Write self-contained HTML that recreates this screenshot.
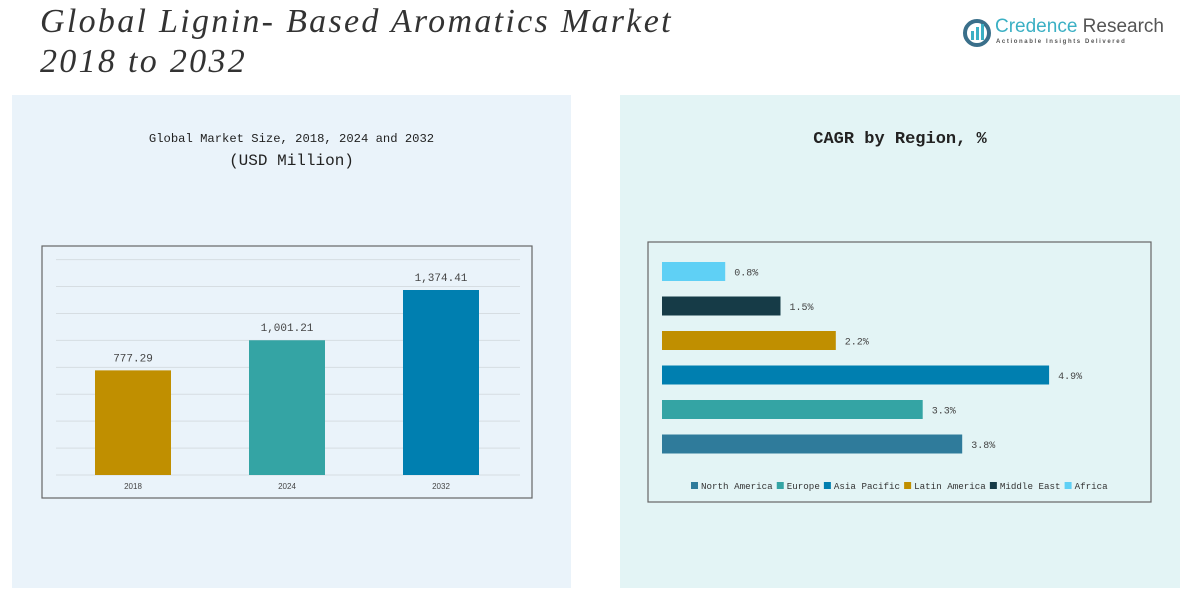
<!DOCTYPE html>
<html><head><meta charset="utf-8"><style>
body{margin:0;width:1195px;height:606px;background:#fff;position:relative;overflow:hidden;font-family:"Liberation Mono",monospace}
.t{position:absolute;white-space:nowrap}
</style></head><body>
<div class="t" style="left:40px;top:2px;font:italic 34px/40px 'Liberation Serif',serif;color:#333;letter-spacing:2.3px">Global Lignin- Based Aromatics Market<br>2018 to 2032</div>
<div style="position:absolute;left:962px;top:16px;width:200px;height:34px">
<svg width="30" height="30" style="position:absolute;left:0;top:2px"><circle cx="15" cy="15" r="12" fill="none" stroke="#3a6f8a" stroke-width="4"/><rect x="9" y="13" width="3" height="9" fill="#3bb0c4"/><rect x="14" y="9" width="3" height="13" fill="#3bb0c4"/><rect x="19" y="6" width="3" height="16" fill="#3bb0c4"/></svg>
<div class="t" style="left:33px;top:0;font:19px 'Liberation Sans',sans-serif;color:#3bb0c4">Credence <span style="color:#555">Research</span></div>
<div class="t" style="left:34px;top:23px;font:bold 6px 'Liberation Sans',sans-serif;color:#555;letter-spacing:1.6px">Actionable Insights Delivered</div>
</div>
<div style="position:absolute;left:12px;top:95px;width:559px;height:493px;background:#eaf3fa"></div>
<div style="position:absolute;left:620px;top:95px;width:560px;height:493px;background:#e3f4f5"></div>
<div class="t" style="left:12px;width:559px;top:128px;text-align:center;font:12.2px/22px 'Liberation Mono',monospace;color:#222">Global Market Size, 2018, 2024 and 2032<br><span style="font-size:16px">(USD Million)</span></div>
<div class="t" style="left:620px;width:560px;top:130px;text-align:center;font:bold 17px 'Liberation Mono',monospace;color:#222">CAGR by Region, %</div>
<svg id="c1" width="1195" height="606" style="position:absolute;left:0;top:0"></svg>
<script>
const years=["2018","2024","2032"];
const sizes=[777.29,1001.21,1374.41];
const sizeLabels=["777.29","1,001.21","1,374.41"];
const regions=["North America","Europe","Asia Pacific","Latin America","Middle East","Africa"];
const cagr=[3.8,3.3,4.9,2.2,1.5,0.8];
const cagrLabels=["3.8%","3.3%","4.9%","2.2%","1.5%","0.8%"];
const yTicks=[0,200,400,600,800,1000,1200,1400,1600];
const barColors=["#c08f00","#34a4a4","#007fb0"];
const regColors=["#2f7b9b","#34a4a4","#007fb0","#c08f00","#163b47","#5fd0f5"];
const NS="http://www.w3.org/2000/svg",svg=document.getElementById('c1');
function mk(t,a,p){const e=document.createElementNS(NS,t);for(const k in a)e.setAttribute(k,a[k]);(p||svg).appendChild(e);return e}
const f1=mk('rect',{x:42,y:246,width:490,height:252,fill:'none',stroke:'#666','stroke-width':1.2});


const y0=475,ys=v=>y0-v*(185/1374.41);
yTicks.forEach(t=>{const l=mk('line',{x1:56,x2:520,y1:ys(t),y2:ys(t),stroke:'#d6dde2','stroke-width':1});

});
const cx=i=>133+i*154;
years.forEach((y,i)=>{
const r=mk('rect',{x:cx(i)-38,y:ys(sizes[i]),width:76,height:y0-ys(sizes[i]),fill:barColors[i]});


const v=mk('text',{x:cx(i),y:ys(sizes[i])-9,'text-anchor':'middle','font-size':11,fill:'#444','font-family':'Liberation Mono'});v.textContent=sizeLabels[i];


const x=mk('text',{x:cx(i),y:489,'text-anchor':'middle','font-size':8,fill:'#444','font-family':'Liberation Sans'});x.textContent=y;


});
const f2=mk('rect',{x:648,y:242,width:503,height:260,fill:'none',stroke:'#666','stroke-width':1.2});


const xs=v=>662+v*79;
regions.forEach((r,i)=>{
const yc=444-i*34.5;
const b=mk('rect',{x:662,y:yc-9.5,width:xs(cagr[i])-662,height:19,fill:regColors[i]});


const t=mk('text',{x:xs(cagr[i])+9,y:yc+4,'font-size':10,fill:'#444','font-family':'Liberation Mono'});t.textContent=cagrLabels[i];


});
let lx=691;
regions.forEach((r,i)=>{
const s=mk('rect',{x:lx,y:482,width:7,height:7,fill:regColors[i]});


const t=mk('text',{x:lx+10,y:489,'font-size':9.2,fill:'#333','font-family':'Liberation Mono'});t.textContent=r;


lx+=10+r.length*5.52+4;
});
</script>
</body></html>
